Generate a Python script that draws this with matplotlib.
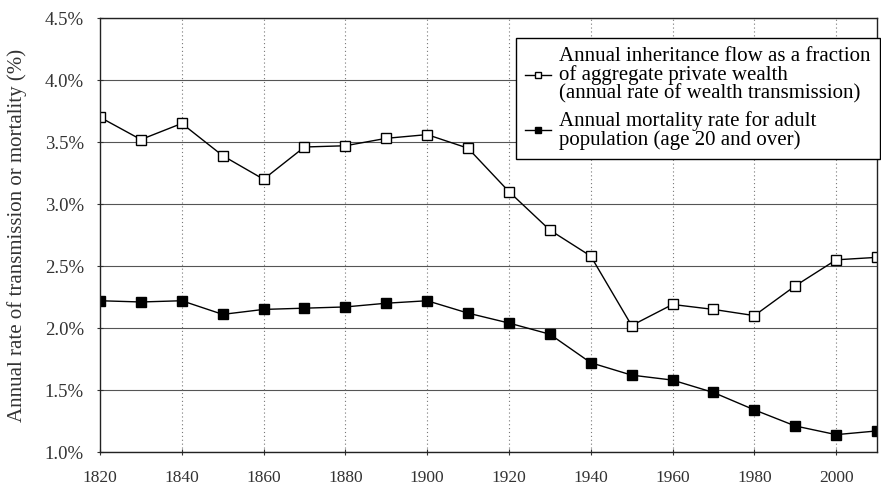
import matplotlib.pyplot as plt
import matplotlib

matplotlib.rcParams['font.family'] = ['Liberation Serif', 'DejaVu Serif']

years = list(range(1820, 2011, 10))
inheritance = [3.70, 3.52, 3.65, 3.39, 3.20, 3.46, 3.47, 3.53, 3.56, 3.45,
               3.10, 2.79, 2.58, 2.02, 2.19, 2.15, 2.10, 2.34, 2.55, 2.57]
mortality = [2.22, 2.21, 2.22, 2.11, 2.15, 2.16, 2.17, 2.20, 2.22, 2.12,
             2.04, 1.95, 1.72, 1.62, 1.58, 1.48, 1.34, 1.21, 1.14, 1.17]
yticks = [1.0, 1.5, 2.0, 2.5, 3.0, 3.5, 4.0, 4.5]
xticks = list(range(1820, 2001, 20))

fig = plt.figure(figsize=(8.81, 4.92), dpi=100)
ax = fig.add_axes([0.1135, 0.0813, 0.882, 0.882])

ax.plot(years, inheritance, color='black', lw=1, marker='s', ms=7,
        mfc='white', mec='black', mew=1,
        label='Annual inheritance flow as a fraction\nof aggregate private wealth\n(annual rate of wealth transmission)')
ax.plot(years, mortality, color='black', lw=1, marker='s', ms=7,
        mfc='black', mec='black',
        label='Annual mortality rate for adult\npopulation (age 20 and over)')

ax.set_xlim(1820, 2010)
ax.set_ylim(1.0, 4.5)
ax.set_xticks(xticks)
ax.set_yticks(yticks)
ax.set_yticklabels(['%.1f%%' % v for v in yticks])
ax.tick_params(direction='inout', length=5, colors='#333333')
ax.tick_params(axis='y', pad=9, labelsize=13.5)
ax.tick_params(axis='x', pad=10.5, labelsize=12.5)

# horizontal solid, vertical dotted grid
for v in yticks:
    ax.axhline(v, color='#555555', lw=0.8, zorder=0)
for x in xticks[1:]:
    ax.axvline(x, color='#777777', lw=0.8, ls=(0, (1, 2.5)), zorder=0)
for s in ax.spines.values():
    s.set_linewidth(1.0)
    s.set_color('#222222')

ax.set_ylabel('Annual rate of transmission or mortality (%)', fontsize=15, color='#333333')
ax.yaxis.set_label_coords(-0.094, 0.5)

leg = ax.legend(loc='upper right', bbox_to_anchor=(1.004, 0.954), fontsize=15,
                frameon=True, fancybox=False, edgecolor='black', handlelength=1.25,
                handletextpad=0.4, borderpad=0.45, borderaxespad=0, labelspacing=0.38,
                framealpha=1)
leg.get_frame().set_linewidth(1)
for h in leg.legend_handles:
    h.set_markersize(5)
for t in leg.get_texts():
    t.set_linespacing(0.92)

plt.savefig('out.png', dpi=100)
